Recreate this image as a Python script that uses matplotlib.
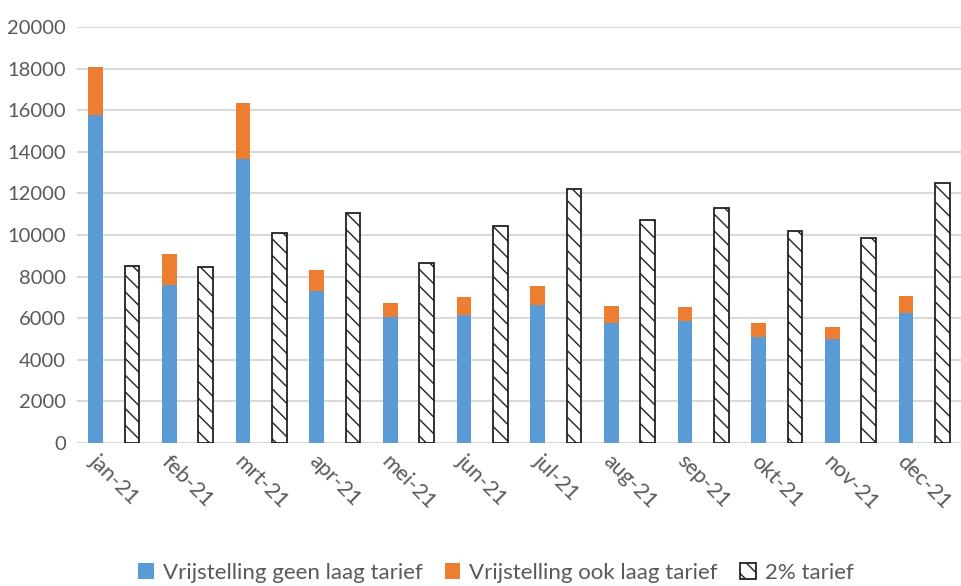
import matplotlib
matplotlib.use('Agg')
import matplotlib.pyplot as plt
import numpy as np

plt.rcParams['font.family'] = ['Lato', 'DejaVu Sans']
plt.rcParams['hatch.linewidth'] = 1.0

months = ['jan-21', 'feb-21', 'mrt-21', 'apr-21', 'mei-21', 'jun-21',
          'jul-21', 'aug-21', 'sep-21', 'okt-21', 'nov-21', 'dec-21']
geen_laag = [15780, 7600, 13650, 7300, 6060, 6150, 6630, 5770, 5870, 5100, 5000, 6250]
ook_laag = [2320, 1490, 2700, 1020, 670, 870, 920, 820, 670, 670, 580, 820]
twee_procent = [8510, 8460, 10100, 11060, 8650, 10430, 12210, 10720, 11300, 10190, 9860, 12500]

x = np.arange(len(months))
w = 0.2
off = 0.245

fig = plt.figure(figsize=(9.61, 5.86), dpi=100)
ax = fig.add_axes([77/961, 1 - 443/586, 1 - 77/961, (443 - 27)/586])

ax.bar(x - off, geen_laag, w, color='#5b9bd5', label='Vrijstelling geen laag tarief', zorder=3)
ax.bar(x - off, ook_laag, w, bottom=geen_laag, color='#ed7d31',
       label='Vrijstelling ook laag tarief', zorder=3)
ax.bar(x + off, twee_procent, w, color='white', edgecolor='#222222', linewidth=1.3,
       hatch='\\\\', label='2% tarief', zorder=3)

ax.set_xlim(-0.5, len(months) - 0.5)
ax.set_ylim(0, 20000)
ax.set_yticks(range(0, 20001, 2000))
ax.yaxis.grid(True, color='#d9d9d9', linewidth=1.5, zorder=0)
for s in ax.spines.values():
    s.set_visible(False)
ax.tick_params(axis='both', length=0, labelcolor='#595959')
ax.tick_params(axis='y', pad=8, labelsize=14.5)
ax.set_xticks(x)
ax.set_xticklabels(months, rotation=-45, ha='center', va='top')
ax.tick_params(axis='x', pad=6, labelsize=15.5)

fig.legend(loc='center', bbox_to_anchor=(0.516, 1 - 573/586), ncol=3, frameon=False,
           fontsize=16, handlelength=0.7, handleheight=0.7, handletextpad=0.4,
           columnspacing=1.0, labelcolor='#595959')

fig.savefig('out.png', dpi=100)
